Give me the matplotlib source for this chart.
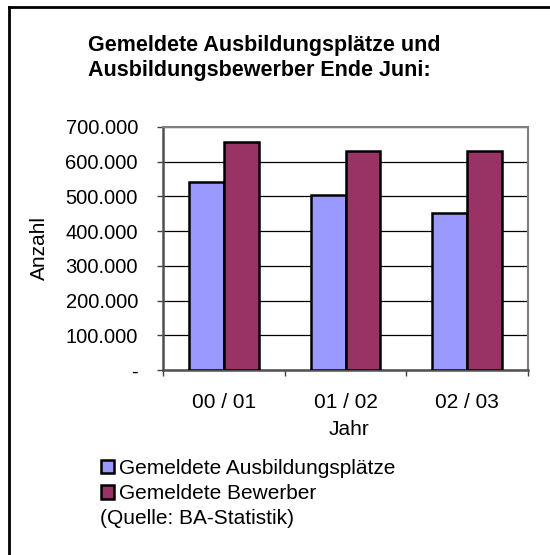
import numpy as np
from matplotlib import pyplot as plt
from matplotlib.patches import Patch
from matplotlib.lines import Line2D

plt.rcParams['font.family'] = ['Liberation Sans', 'DejaVu Sans']

# Daten (BA-Statistik, Ende Juni)
jahre = ['00 / 01', '01 / 02', '02 / 03']
plaetze = [541000, 504000, 453000]
bewerber = [658000, 632000, 632000]
yticks = [0, 100000, 200000, 300000, 400000, 500000, 600000, 700000]
ylabels = ['-', '100.000', '200.000', '300.000', '400.000', '500.000', '600.000', '700.000']

c_blau = '#9999FF'
c_rot = '#993366'

fig = plt.figure(figsize=(5.5, 5.55), dpi=100)
ax = fig.add_axes([163/550, 1-370/555, 365/550, 243/555])

x = np.arange(len(jahre))
w = 1/3.5
ax.bar(x - w/2, plaetze, w, color=c_blau, edgecolor='black', linewidth=1.8, zorder=3)
ax.bar(x + w/2, bewerber, w, color=c_rot, edgecolor='black', linewidth=1.8, zorder=3)

ax.set_xlim(-0.5, 2.5)
ax.set_ylim(0, 700000)
ax.set_yticks(yticks)
ax.set_yticklabels(ylabels, fontsize=14.5)
ax.yaxis.grid(True, color='black', linewidth=0.9, zorder=0)

# Kategorie-Grenzen als Ticks, Beschriftung in der Mitte
ax.set_xticks([-0.5, 0.5, 1.5, 2.5])
ax.set_xticklabels([])
ax.set_xticks(x, minor=True)
ax.set_xticklabels(jahre, minor=True, fontsize=15)
ax.tick_params(axis='x', which='minor', length=0, pad=16.5)
ax.tick_params(axis='x', which='major', length=4.5, color='#404040', width=1)
ax.tick_params(axis='y', length=4.5, color='#404040', width=1, pad=13.5)

for s in ['top', 'right']:
    ax.spines[s].set_color('#808080')
    ax.spines[s].set_linewidth(1.5)
for s in ['left', 'bottom']:
    ax.spines[s].set_color('#505050')
    ax.spines[s].set_linewidth(1.8)

ax.set_ylabel('Anzahl', fontsize=15)
ax.yaxis.set_label_coords(-0.312, 0.5)
ax.set_xlabel('Jahr', fontsize=15)
ax.xaxis.set_label_coords(0.51, -0.205)

fig.text(88/550, 1-35/555, 'Gemeldete Ausbildungsplätze und\nAusbildungsbewerber Ende Juni:',
         fontsize=15.5, fontweight='bold', ha='left', va='top', linespacing=1.25)

handles = [Patch(facecolor=c_blau, edgecolor='black', linewidth=1.8),
           Patch(facecolor=c_rot, edgecolor='black', linewidth=1.8)]
fig.legend(handles, ['Gemeldete Ausbildungsplätze', 'Gemeldete Bewerber'],
           loc='upper left', bbox_to_anchor=(101/550, 1-459/555), frameon=False,
           fontsize=15, handlelength=0.62, handleheight=0.62, handletextpad=0.25,
           borderpad=0, borderaxespad=0, labelspacing=0.3)
fig.text(100/550, 1-519/555, '(Quelle: BA-Statistik)', fontsize=15, ha='left', va='center')

# Rahmen (nur links und oben sichtbar)
fig.add_artist(Line2D([9/550, 9/550], [0, 1-7/555], color='black', linewidth=2, transform=fig.transFigure))
fig.add_artist(Line2D([9/550, 1], [1-7/555, 1-7/555], color='black', linewidth=2, transform=fig.transFigure))

plt.savefig('out.png', dpi=100)
